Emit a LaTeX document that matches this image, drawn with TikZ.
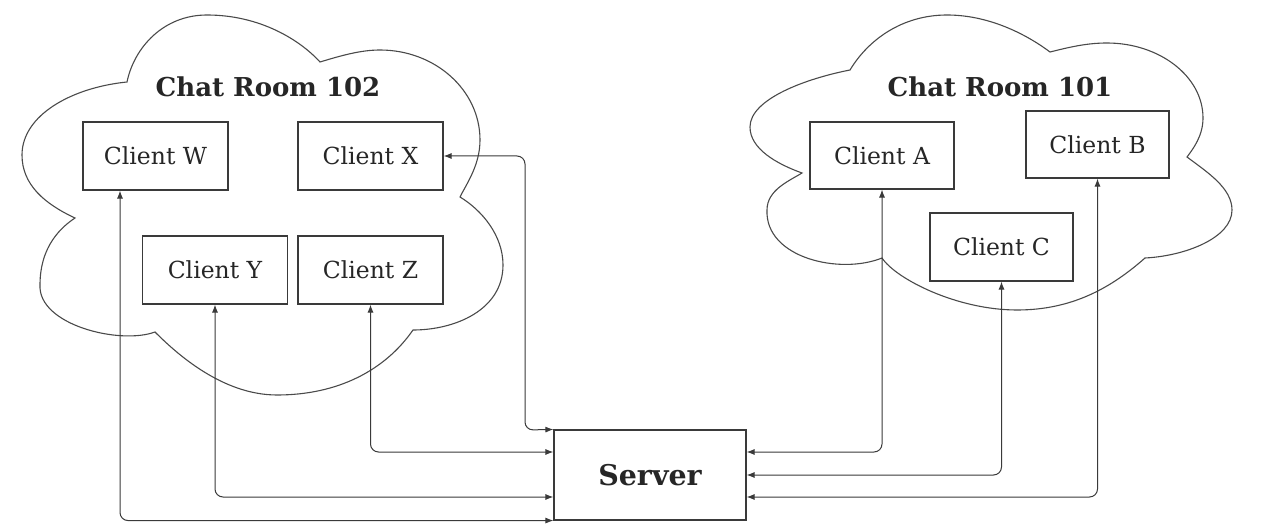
\documentclass[tikz,border=0pt]{standalone}
\usepackage{fontspec}
\setmainfont{DejaVu Serif}
\usetikzlibrary{arrows.meta}
\definecolor{ink}{HTML}{262626}
\definecolor{edge}{HTML}{3A3A3A}
\definecolor{cloudline}{HTML}{4A4A4A}
\begin{document}
\begin{tikzpicture}[x=1pt,y=-1pt,
  client/.style={draw=edge, line width=1.1pt, fill=white, inner sep=0pt,
    minimum width=145pt, minimum height=68pt, text=ink,
    font=\fontsize{23.5}{27}\selectfont},
  serverbox/.style={draw=edge, line width=1.1pt, fill=white, inner sep=0pt,
    minimum width=192pt, minimum height=90pt, text=ink,
    font=\fontsize{28.5}{32}\selectfont\bfseries},
  roomtitle/.style={text=ink, inner sep=0pt, font=\fontsize{26}{30}\selectfont\bfseries},
  cloudedge/.style={draw=cloudline, line width=1.1pt, fill=white},
  conn/.style={draw=edge, line width=1pt, rounded corners=8pt,
    {Latex[length=8pt,width=6pt]}-{Latex[length=8pt,width=6pt]}}
]
\fill[white] (0,0) rectangle (1261,529);
\useasboundingbox (0,0) rectangle (1261,529);

% cloud of room 102, lobes running clockwise from the left notch
\path[cloudedge]
  (75,218) .. controls (45,204) and (22,185) .. (22,155)
           .. controls (22,115) and (72,87.5) .. (127,82)
           .. controls (134,48) and (163,15) .. (207,15)
           .. controls (260,15) and (300,40) .. (320,62)
           .. controls (340,56) and (360,50) .. (380,50)
           .. controls (435,50) and (480,90) .. (480,140)
           .. controls (480,165) and (466.7,183.6) .. (460,197)
           .. controls (481.4,209.9) and (503,235) .. (503,265)
           .. controls (503,310) and (455,330) .. (413,330)
           .. controls (384.5,371) and (337,395) .. (277,395)
           .. controls (222,395) and (176,353) .. (155,332)
           .. controls (120,345) and (38,325) .. (40,285)
           .. controls (40,245) and (62.5,226.4) .. (75,218)
  -- cycle;

% cloud of room 101
\path[cloudedge]
  (802,173) .. controls (777,164) and (750,149) .. (750,127)
            .. controls (750,99) and (806,78.6) .. (850,70)
            .. controls (868,40) and (902,15) .. (947,15)
            .. controls (992,15) and (1030,37) .. (1050,52)
            .. controls (1070,47) and (1087,43) .. (1107,43)
            .. controls (1159,43) and (1203,76) .. (1203,118)
            .. controls (1203,136) and (1193,149) .. (1187,157)
            .. controls (1207,172) and (1232,188) .. (1232,210)
            .. controls (1232,238) and (1185,256) .. (1145,258)
            .. controls (1111,288) and (1072,310) .. (1017,310)
            .. controls (957,310) and (896,279) .. (882,258)
            .. controls (840,275) and (765,258) .. (767,210)
            .. controls (767,190) and (789,181) .. (802,173)
  -- cycle;

% room titles
\node[roomtitle] (t102) at (268,87) {Chat Room 102};
\node[roomtitle] (t101) at (1000,87) {Chat Room 101};

% clients of room 102
\node[client] (W) at (155.5,156) {Client W};
\node[client] (X) at (370.5,156) {Client X};
\node[client] (Y) at (215,270) {Client Y};
\node[client] (Z) at (370.5,270) {Client Z};

% clients of room 101
\node[client, minimum width=144pt, minimum height=67pt] (A) at (882,155.5) {Client A};
\node[client, minimum width=143pt, minimum height=67pt] (B) at (1097.5,144.5) {Client B};
\node[client, minimum width=143pt] (C) at (1001.5,247) {Client C};

% server
\node[serverbox] (S) at (650,475) {Server};

% bend point of the connector from client X
\coordinate (xbend) at (525,430);

% connectors
\draw[conn] (X.east) -| (xbend) -- (S.north west);
\draw[conn] (Z.south) |- ([yshift=23pt]S.west);
\draw[conn] (Y.south) |- ([yshift=-22pt]S.west);
\draw[conn] ([xshift=-35.5pt]W.south) |- (S.south west);
\draw[conn] (A.south) |- ([yshift=23pt]S.east);
\draw[conn] (C.south) |- (S.east);
\draw[conn] (B.south) |- ([yshift=-22pt]S.east);
\end{tikzpicture}
\end{document}
